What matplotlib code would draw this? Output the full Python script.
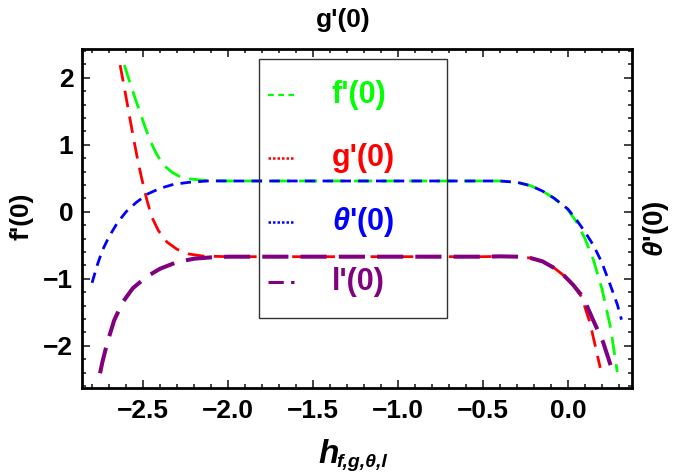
import matplotlib
matplotlib.use("Agg")
import matplotlib.pyplot as plt
from matplotlib.lines import Line2D
from matplotlib.patches import Rectangle
from matplotlib.ticker import MultipleLocator, FuncFormatter

plt.rcParams['font.family'] = ['Liberation Sans', 'DejaVu Sans']
plt.rcParams['font.weight'] = 'bold'
plt.rcParams['mathtext.fontset'] = 'custom'
plt.rcParams['mathtext.rm'] = 'Liberation Sans:bold'
plt.rcParams['mathtext.it'] = 'Liberation Sans:bold:italic'
plt.rcParams['mathtext.bf'] = 'Liberation Sans:bold'

# ---- data ----
f_x = [-2.61, -2.58, -2.55, -2.52, -2.49, -2.46, -2.42, -2.38, -2.33, -2.28, -2.22, -2.15,
       -2.0, -1.5, -1.0, -0.5, -0.4, -0.3, -0.22, -0.15, -0.08, 0.0, 0.05, 0.1, 0.15, 0.2,
       0.25, 0.29]
f_y = [2.19, 1.95, 1.72, 1.50, 1.28, 1.07, 0.86, 0.70, 0.59, 0.52, 0.49, 0.47,
       0.46, 0.46, 0.46, 0.46, 0.46, 0.44, 0.39, 0.31, 0.20, 0.03, -0.15, -0.40, -0.72, -1.15,
       -1.72, -2.39]

g_x = [-2.635, -2.61, -2.585, -2.56, -2.535, -2.51, -2.48, -2.45, -2.41, -2.36, -2.30, -2.23,
       -2.15, -2.0, -1.5, -1.0, -0.5, -0.4, -0.3, -0.22, -0.15, -0.08, -0.02, 0.03, 0.08,
       0.13, 0.19]
g_y = [2.19, 1.85, 1.50, 1.15, 0.82, 0.52, 0.20, -0.07, -0.28, -0.45, -0.56, -0.63,
       -0.66, -0.67, -0.67, -0.67, -0.67, -0.665, -0.67, -0.69, -0.74, -0.84, -0.96, -1.09, -1.27,
       -1.66, -2.33]

t_x = [-2.80, -2.77, -2.74, -2.70, -2.65, -2.60, -2.54, -2.47, -2.40, -2.32, -2.23, -2.12,
       -2.0, -1.5, -1.0, -0.5, -0.4, -0.3, -0.22, -0.15, -0.08, 0.0, 0.05, 0.1, 0.15, 0.2,
       0.25, 0.29, 0.315]
t_y = [-1.06, -0.80, -0.58, -0.37, -0.16, 0.0, 0.14, 0.27, 0.35, 0.41, 0.44, 0.46,
       0.46, 0.46, 0.46, 0.46, 0.46, 0.44, 0.39, 0.31, 0.20, 0.04, -0.12, -0.30, -0.50, -0.76,
       -1.10, -1.38, -1.61]

l_x = [-2.753, -2.74, -2.71, -2.67, -2.62, -2.56, -2.48, -2.40, -2.30, -2.20, -2.10, -2.0,
       -1.5, -1.0, -0.5, -0.4, -0.3, -0.22, -0.15, -0.08, -0.02, 0.03, 0.088, 0.147, 0.206,
       0.265]
l_y = [-2.41, -2.25, -1.95, -1.62, -1.35, -1.14, -0.97, -0.85, -0.75, -0.70, -0.68, -0.67,
       -0.67, -0.67, -0.67, -0.665, -0.67, -0.69, -0.74, -0.84, -0.96, -1.09, -1.27, -1.61, -1.94,
       -2.40]

labels = ["f'(0)", "g'(0)", r"$\theta$'(0)", "l'(0)"]
colors = ['#00ff00', '#ff0000', '#0000ff', '#800080']

W, H = 685, 476
fig = plt.figure(figsize=(W / 100, H / 100), dpi=100)
ax = fig.add_axes([81.7 / W, 1 - 388 / H, 550 / W, 339 / H])

ax.plot(f_x, f_y, color=colors[0], lw=2.0, dashes=(6.5, 3.4))
ax.plot(g_x, g_y, color=colors[1], lw=2.0, dashes=(6, 3.4))
ax.plot(t_x, t_y, color=colors[2], lw=2.0, dashes=(3.8, 2.6))
ax.plot(l_x, l_y, color=colors[3], lw=2.9, dashes=(6.5, 3.0))

ax.set_xlim(-2.861, 0.375)
ax.set_ylim(-2.63, 2.43)

ax.xaxis.set_major_locator(MultipleLocator(0.5))
ax.xaxis.set_minor_locator(MultipleLocator(0.1))
ax.yaxis.set_major_locator(MultipleLocator(1))
ax.yaxis.set_minor_locator(MultipleLocator(0.2))
ax.xaxis.set_major_formatter(FuncFormatter(
    lambda v, p: ('\u2212' if v < -1e-9 else '') + f"{abs(v):.1f}"))
ax.yaxis.set_major_formatter(FuncFormatter(
    lambda v, p: ('\u2212' if v < -1e-9 else '') + f"{abs(v):.0f}"))
ax.tick_params(which='both', direction='in', top=True, right=True,
               labeltop=False, labelright=False, width=1.2, color='#222222')
ax.tick_params(which='major', length=6)
ax.tick_params(which='minor', length=3)
ax.tick_params(axis='x', which='major', pad=8, labelsize=19)
ax.tick_params(axis='y', which='major', pad=6, labelsize=19)
for lab in ax.get_xticklabels() + ax.get_yticklabels():
    lab.set_fontweight('bold')
for s in ax.spines.values():
    s.set_linewidth(2.0)

# frame labels
fig.text(343 / W, 1 - 20 / H, "g'(0)", ha='center', va='center', fontsize=19, fontweight='bold')
fig.text(22 / W, 1 - 216 / H, "f'(0)", ha='center', va='center', fontsize=19, fontweight='bold', rotation=90)
fig.text(656 / W, 1 - 229 / H, r"$\theta$'(0)", ha='center', va='center', fontsize=20, fontweight='bold', rotation=90)
fig.text(318 / W, 1 - 463 / H, "h", ha='left', va='baseline', fontsize=24, fontweight='bold', fontstyle='italic')
fig.text(336 / W, 1 - 467 / H, "f,g,\u03b8,l", ha='left', va='baseline', fontsize=14, fontweight='bold', fontstyle='italic')

# legend box
fig.patches.append(Rectangle((259 / W, 1 - 318 / H), 188 / W, 259 / H, transform=fig.transFigure,
                             fill=False, edgecolor='#333333', lw=1.0))
rows = [95, 158, 222, 282]
styles = [dict(lw=1.6, dashes=(2.6, 2.0)), dict(lw=1.8, dashes=(1.0, 0.8)),
          dict(lw=1.8, dashes=(1.0, 0.8)), dict(lw=2.2, dashes=(5, 2.4, 2.2, 2.4))]
for ry, lab, c, st in zip(rows, labels, colors, styles):
    fig.lines.append(Line2D([268 / W, 294 / W], [1 - ry / H, 1 - ry / H], transform=fig.transFigure,
                            color=c, solid_capstyle='butt', dash_capstyle='butt', **st))
    fig.text(332 / W, 1 - ry / H, lab, ha='left', va='center', fontsize=22, fontweight='bold', color=c)

fig.savefig('out.png', dpi=100)
